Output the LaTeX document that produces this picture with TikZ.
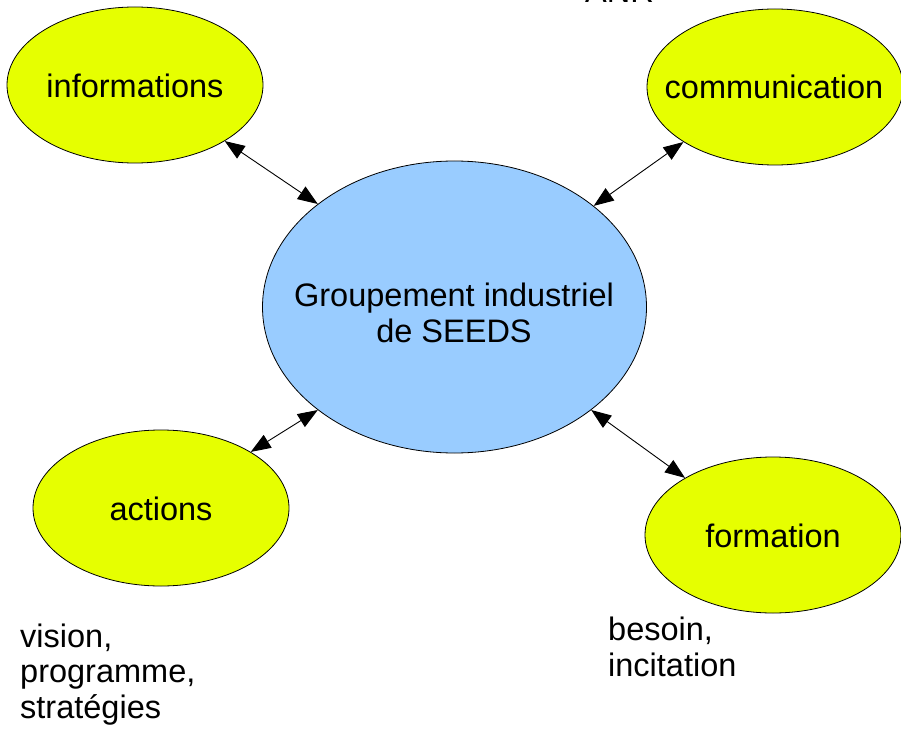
\documentclass[tikz,border=0pt]{standalone}
\usepackage{fontspec}
\setmainfont{Liberation Sans}
\usetikzlibrary{shapes.geometric,arrows.meta}
\definecolor{ylw}{RGB}{230,255,0}
\definecolor{blu}{RGB}{153,204,255}
\tikzset{
  ell/.style={ellipse,draw=black,line width=0.8pt,inner sep=0pt},
  yell/.style={ell,fill=ylw,minimum width=256pt,minimum height=156pt},
  lbl/.style={font=\fontsize{32.5}{35.5}\selectfont,inner sep=0pt},
  conn/.style={line width=0.9pt,{Triangle[length=20pt,width=15pt]}-{Triangle[length=20pt,width=15pt]}}
}
\begin{document}
\begin{tikzpicture}[x=1pt,y=-1pt]
\useasboundingbox (0,0) rectangle (901,730);
\begin{scope}
\clip (0,0) rectangle (901,730);
\node[yell] (info) at (135,85) {};
\node[yell] (comm) at (775,87) {};
\node[yell] (act) at (161,508) {};
\node[yell] (form) at (773,535) {};
\node[ell,fill=blu,minimum width=384pt,minimum height=292pt] (center) at (454.5,307) {};
\node[lbl,anchor=base west] (anr) at (585,3) {ANR};
\end{scope}
\node[lbl] (infot) at (135,86) {informations};
\node[lbl] (commt) at (774,87) {communication};
\node[lbl] (actt) at (161,509) {actions};
\node[lbl] (formt) at (773,536) {formation};
\node[lbl,align=center] (centert) at (454,313) {Groupement industriel\\de SEEDS};
\node[lbl,align=left,anchor=base west] (visn) at (20,718) {vision,\\programme,\\stratégies};
\node[lbl,align=left,anchor=base west] (besn) at (608,676) {besoin,\\incitation};
\draw[conn] (info.-32) -- (center.143.7);
\draw[conn] (comm.211) -- (center.36.7);
\draw[conn] (act.32.5) -- (center.217.6);
\draw[conn] (form.147) -- (center.-37);
\end{tikzpicture}
\end{document}
